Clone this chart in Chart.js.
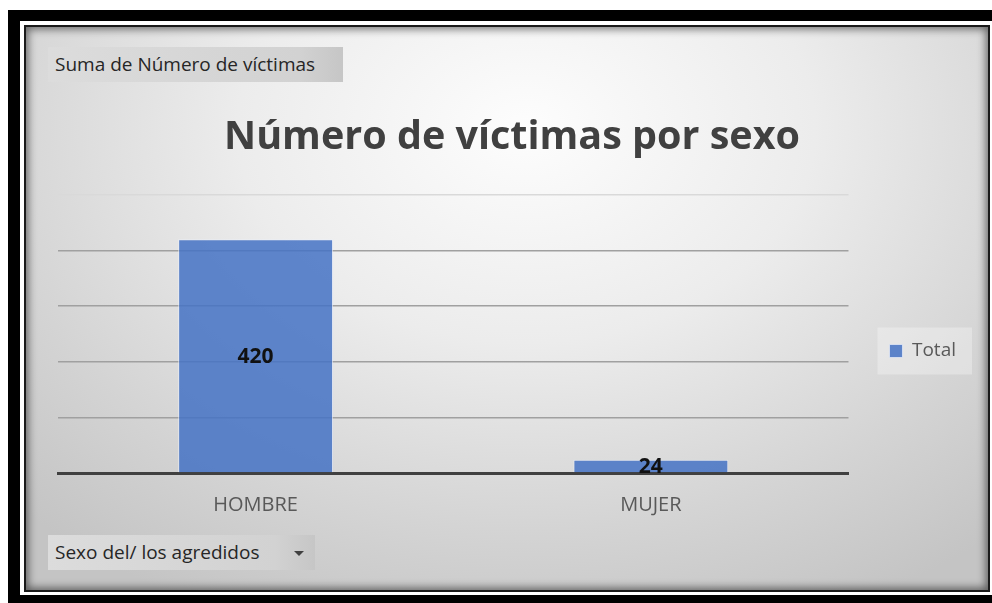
<!DOCTYPE html>
<html>
<head>
<meta charset="utf-8">
<script src="https://cdn.jsdelivr.net/npm/chart.js@4/dist/chart.umd.min.js"></script>
<style>
  body { margin: 0; background: #fff; width: 992px; height: 603px; overflow: hidden; position: relative; font-family: 'Open Sans', sans-serif; }
  .frameBlack { position: absolute; left: 8px; top: 10px; width: 1000px; height: 600px; background: #000; }
  .frameWhite { position: absolute; left: 20px; top: 21px; width: 1000px; height: 574px; background: #fff; }
  .panel {
    position: absolute; left: 24px; top: 25px; width: 962px; height: 563px;
    border: 2px solid #1a1a1a;
    background: radial-gradient(ellipse 75% 95% at 52% 18%, #fdfdfd 0%, #ececec 40%, #d4d4d4 75%, #c4c4c4 100%);
    box-shadow: inset 0 0 8px 2px rgba(0,0,0,0.55);
  }
  #myChart { position: absolute; left: 0; top: 0; }
  .pivotBtn {
    position: absolute; height: 35px; line-height: 35px; padding-left: 7px;
    background: linear-gradient(to right, #dcdcdc, #d2d2d2 85%, #c6c6c6);
    color: #262626; font-size: 19px; box-sizing: border-box;
  }
  .arrow { position: absolute; width: 0; height: 0; border-left: 5px solid transparent; border-right: 5px solid transparent; border-top: 5px solid #404040; }
</style>
</head>
<body>
<div class="frameBlack"></div>
<div class="frameWhite"></div>
<div class="panel"></div>
<canvas id="myChart" width="992" height="603"></canvas>
<div class="pivotBtn" style="left:48px; top:47px; width:295px;">Suma de Número de víctimas</div>
<div class="pivotBtn" style="left:48px; top:535px; width:267px;">Sexo del/ los agredidos<span class="arrow" style="left:246px; top:16px;"></span></div>

<script>
// datos
const categories = ['HOMBRE', 'MUJER'];
const victimas = [420, 24];
const seriesLabel = 'Total';
const yMax = 500;
const yStep = 100;

// etiquetas de valor centradas en cada barra
const barLabels = {
    id: 'barLabels',
    afterDatasetsDraw(chart) {
        const ctx = chart.ctx;
        const meta = chart.getDatasetMeta(0);
        ctx.save();
        ctx.font = 'bold 21px "Open Sans"';
        ctx.fillStyle = '#111111';
        ctx.textAlign = 'center';
        ctx.textBaseline = 'middle';
        meta.data.forEach((bar, i) => {
            const p = bar.getProps(['x', 'y', 'base'], true);
            ctx.fillText(chart.data.datasets[0].data[i], p.x, (p.y + p.base) / 2 + 1);
        });
        ctx.restore();
    }
};

// caja de fondo de la leyenda
const legendBox = {
    id: 'legendBox',
    beforeDraw(chart) {
        const hit = chart.legend && chart.legend.legendHitBoxes[0];
        if (!hit) return;
        const ctx = chart.ctx;
        const cy = hit.top + hit.height / 2;
        ctx.save();
        ctx.fillStyle = 'rgba(255,255,255,0.3)';
        ctx.fillRect(hit.left - 12, cy - 23.5, hit.width + 28, 47);
        ctx.restore();
    }
};

const ctx = document.getElementById('myChart').getContext('2d');

const myChart = new Chart(ctx, {
    type: 'bar',
    data: {
        labels: categories,
        datasets: [{
            label: seriesLabel,
            data: victimas,
            backgroundColor: 'rgba(68, 114, 196, 0.85)',
            borderColor: 'rgba(235, 240, 250, 0.7)',
            borderWidth: 1,
            categoryPercentage: 1,
            barPercentage: 0.392
        }]
    },
    options: {
        responsive: false,
        animation: false,
        layout: {
            padding: { left: 58, right: 26, top: 110, bottom: 11 }
        },
        scales: {
            x: {
                z: 1,
                grid: { display: false, drawTicks: false },
                border: { display: true, color: '#404040', width: 3 },
                ticks: {
                    color: '#595959',
                    padding: 20,
                    font: { family: 'Open Sans', size: 20 }
                },
                afterFit(scale) {
                    scale.height = 119;
                }
            },
            y: {
                min: 0,
                max: yMax,
                ticks: { display: false, stepSize: yStep },
                border: { display: false },
                grid: {
                    drawTicks: false,
                    lineWidth: 1.5,
                    color: (c) => {
                        if (c.tick.value === 0) return 'rgba(0,0,0,0)';
                        if (c.tick.value === yMax) return '#d9d9d9';
                        return '#a0a0a0';
                    }
                }
            }
        },
        plugins: {
            tooltip: { enabled: false },
            legend: {
                display: true,
                position: 'right',
                labels: {
                    boxWidth: 13,
                    boxHeight: 13,
                    padding: 41,
                    color: '#595959',
                    font: { family: 'Open Sans', size: 19 }
                }
            },
            title: {
                display: true,
                text: 'Número de víctimas por sexo',
                color: '#404040',
                font: { family: 'Open Sans', size: 39.5, weight: 'bold', lineHeight: 1.2 },
                padding: { top: 4.5, bottom: 32.7 }
            }
        }
    },
    plugins: [barLabels, legendBox]
});
</script>
</body>
</html>
